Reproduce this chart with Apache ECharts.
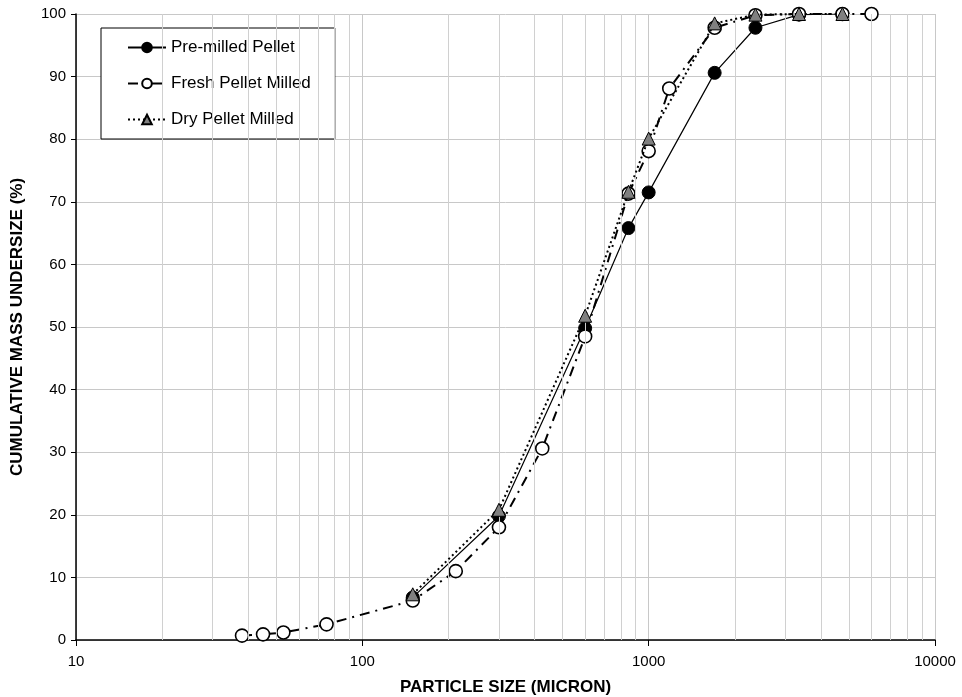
<!DOCTYPE html>
<html>
<head>
<meta charset="utf-8">
<script src="https://cdn.jsdelivr.net/npm/echarts@6/dist/echarts.min.js"></script>
<style>html,body{margin:0;padding:0;background:#fff}#c{width:962px;height:697px}</style>
</head>
<body>
<div id="c"></div>
<script>
var SERIES_NAMES = ['Pre-milled Pellet', 'Fresh Pellet Milled', 'Dry Pellet Milled'];
var preSize = [150, 300, 600, 850, 1000, 1700, 2360, 3350, 4750];
var preVal  = [6.8, 19.8, 49.8, 65.8, 71.5, 90.6, 97.8, 99.9, 100];
var freshSize = [38, 45, 53, 75, 150, 212, 300, 425, 600, 850, 1000, 1180, 1700, 2360, 3350, 4750, 6000];
var freshVal  = [0.7, 0.9, 1.2, 2.5, 6.3, 11, 18, 30.6, 48.5, 71.3, 78.1, 88.1, 97.8, 99.8, 100, 100, 100];
var drySize = [150, 300, 600, 850, 1000, 1700, 2360, 3350, 4750];
var dryVal  = [7.3, 20.8, 51.8, 71.6, 80.1, 98.5, 99.9, 100, 100];
var X_MIN = 10, X_MAX = 10000;
var Y_TICKS = [0, 10, 20, 30, 40, 50, 60, 70, 80, 90, 100];

function pairs(xs, ys) { return xs.map(function (x, i) { return [x, ys[i]]; }); }
var minorLines = [];
for (var d = X_MIN; d < X_MAX; d *= 10) {
  for (var k = 2; k <= 9; k++) minorLines.push({ xAxis: k * d });
}

var FONT = "'Liberation Sans', Arial, sans-serif";
var chart = echarts.init(document.getElementById('c'));
chart.setOption({
  animation: false,
  backgroundColor: '#fff',
  grid: { left: 76, right: 27, top: 14, bottom: 57, containLabel: false, outerBoundsMode: 'none' },
  legend: {
    data: SERIES_NAMES,
    orient: 'vertical',
    left: 101, top: 28,
    padding: [11, 24, 11, 26],
    itemGap: 19,
    itemWidth: 38, itemHeight: 12,
    borderColor: '#000', borderWidth: 1,
    backgroundColor: '#fff',
    textStyle: { fontFamily: FONT, fontSize: 17, color: '#000' }
  },
  xAxis: {
    type: 'log', logBase: 10, min: X_MIN, max: X_MAX,
    name: 'PARTICLE SIZE (MICRON)', nameLocation: 'middle', nameGap: 39,
    nameTextStyle: { fontFamily: FONT, fontSize: 17, fontWeight: 'bold', color: '#000' },
    axisLine: { onZero: false, lineStyle: { color: '#000', width: 1.5 } },
    axisTick: { show: true, length: 6, lineStyle: { color: '#000' } },
    axisLabel: { fontFamily: FONT, fontSize: 15, color: '#000', margin: 14,
      formatter: function (v) { return String(Math.round(v)); } },
    splitLine: { show: true, lineStyle: { color: '#c8c8c8', width: 1 } }
  },
  yAxis: {
    type: 'value', min: 0, max: 100, interval: 10,
    name: 'CUMULATIVE MASS UNDERSIZE (%)', nameLocation: 'middle', nameGap: 50,
    nameTextStyle: { fontFamily: FONT, fontSize: 17, fontWeight: 'bold', color: '#000' },
    axisLine: { show: true, lineStyle: { color: '#000', width: 1.5 } },
    axisTick: { show: true, length: 5, lineStyle: { color: '#000' } },
    axisLabel: { fontFamily: FONT, fontSize: 15, color: '#000', margin: 10,
      formatter: function (v) { return Y_TICKS.indexOf(v) >= 0 ? String(v) : ''; } },
    splitLine: { show: true, lineStyle: { color: '#c8c8c8', width: 1 } }
  },
  series: [
    {
      type: 'line', data: [], silent: true, z: 1,
      markLine: {
        silent: true, symbol: ['none', 'none'], animation: false,
        label: { show: false },
        lineStyle: { color: '#d0d0d0', width: 1, type: 'solid' },
        data: minorLines
      }
    },
    {
      name: SERIES_NAMES[0], type: 'line', z: 3,
      data: pairs(preSize, preVal),
      symbol: 'circle', symbolSize: 13,
      lineStyle: { color: '#000', width: 1.2, type: 'solid' },
      itemStyle: { color: '#000', borderColor: '#000', borderWidth: 1 }
    },
    {
      name: SERIES_NAMES[1], type: 'line', z: 4,
      data: pairs(freshSize, freshVal),
      symbol: 'circle', symbolSize: 13,
      lineStyle: { color: '#000', width: 2, type: [10, 6, 2, 6] },
      itemStyle: { color: '#fff', borderColor: '#000', borderWidth: 1.6 }
    },
    {
      name: SERIES_NAMES[2], type: 'line', z: 5,
      data: pairs(drySize, dryVal),
      symbol: 'triangle', symbolSize: 13,
      lineStyle: { color: '#000', width: 2, type: [2, 3] },
      itemStyle: { color: '#808080', borderColor: '#000', borderWidth: 1 }
    }
  ]
});
</script>
</body>
</html>
